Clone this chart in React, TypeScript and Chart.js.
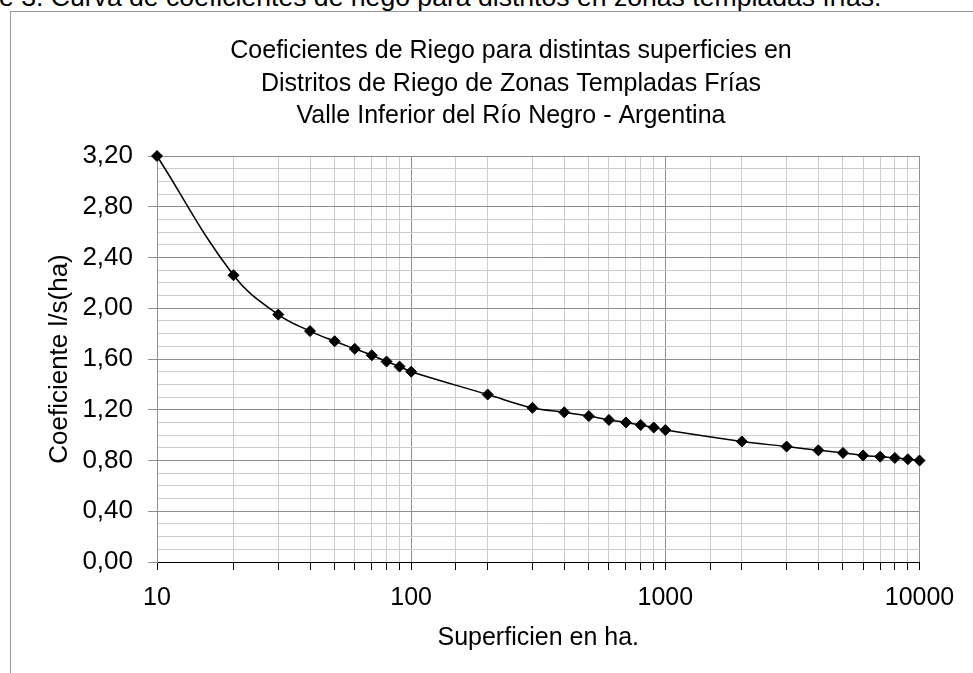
import React, { useEffect, useRef } from "react";
import { Chart, registerables } from "chart.js";

Chart.register(...registerables);

// ---- data ----
const superficies: number[] = [
  10, 20, 30, 40, 50, 60, 70, 80, 90,
  100, 200, 300, 400, 500, 600, 700, 800, 900,
  1000, 2000, 3000, 4000, 5000, 6000, 7000, 8000, 9000, 10000,
];
const coeficientes: number[] = [
  3.2, 2.26, 1.95, 1.82, 1.74, 1.68, 1.63, 1.58, 1.54,
  1.5, 1.32, 1.215, 1.18, 1.15, 1.12, 1.1, 1.08, 1.06,
  1.04, 0.95, 0.91, 0.88, 0.86, 0.84, 0.83, 0.82, 0.81, 0.8,
];
const titleLines: string[] = [
  "Coeficientes de Riego para distintas superficies en",
  "Distritos de Riego de Zonas Templadas Frías",
  "Valle Inferior del Río Negro - Argentina",
];
const xTitle = "Superficien en ha.";
const yTitle = "Coeficiente l/s(ha)";
const yMin = 0;
const yMax = 3.2;
const yMinorStep = 0.1;
const yMajorEvery = 4; // a labelled tick every 0.40
const xMin = 10;
const xMax = 10000;

const FONT = "'Liberation Sans', Arial, Helvetica, sans-serif";
const CW = 1000;
const CH = 661;

const isMajorY = (v: number) => Math.abs(Math.round(v / yMinorStep) % yMajorEvery) === 0;
const isDecade = (v: number) => {
  const l = Math.log10(v);
  return Math.abs(l - Math.round(l)) < 1e-9;
};

export default function App() {
  const ref = useRef<HTMLCanvasElement | null>(null);

  useEffect(() => {
    if (!ref.current) return;
    const chart = new Chart(ref.current, {
      type: "line",
      data: {
        datasets: [
          {
            data: superficies.map((x, i) => ({ x, y: coeficientes[i] })),
            borderColor: "#000",
            backgroundColor: "#000",
            borderWidth: 1.5,
            tension: 0.4,
            clip: false,
            pointStyle: "rectRot",
            pointRadius: 5.5,
            pointBackgroundColor: "#000",
            pointBorderColor: "#000",
            pointBorderWidth: 1,
            fill: false,
          },
        ],
      },
      options: {
        responsive: false,
        animation: false,
        events: [],
        layout: { padding: 0 },
        plugins: {
          legend: { display: false },
          tooltip: { enabled: false },
          title: {
            display: true,
            text: titleLines,
            color: "#000",
            font: { family: FONT, size: 25, weight: "normal", lineHeight: 1.3 },
            padding: { top: 23, bottom: 23.5 },
          },
        },
        scales: {
          x: {
            type: "logarithmic",
            min: xMin,
            max: xMax,
            afterFit: (s: any) => {
              s.height = CH - 550;
            },
            border: { display: true, color: "#000", width: 1 },
            grid: {
              color: (ctx: any) => (ctx.tick && isDecade(ctx.tick.value) ? "#8f8f8f" : "#cccccc"),
              tickColor: "#000",
              tickLength: 8,
              lineWidth: 1,
            },
            ticks: {
              autoSkip: false,
              maxRotation: 0,
              minRotation: 0,
              padding: 13,
              color: "#000",
              font: { family: FONT, size: 25 },
              callback: (v: any) => (isDecade(Number(v)) ? String(Number(v)) : ""),
            },
            title: {
              display: true,
              text: xTitle,
              color: "#000",
              font: { family: FONT, size: 25, lineHeight: 1.2 },
              padding: { top: 0, bottom: 20 },
            },
          },
          y: {
            type: "linear",
            min: yMin,
            max: yMax,
            afterFit: (s: any) => {
              s.width = 146;
            },
            border: { display: true, color: "#8f8f8f", width: 1 },
            grid: {
              color: (ctx: any) => (ctx.tick && isMajorY(ctx.tick.value) ? "#8f8f8f" : "#cccccc"),
              tickColor: (ctx: any) => (ctx.tick && isMajorY(ctx.tick.value) ? "#8f8f8f" : "rgba(0,0,0,0)"),
              tickLength: 9,
              lineWidth: 1,
            },
            ticks: {
              stepSize: yMinorStep,
              autoSkip: false,
              padding: 15,
              color: "#000",
              font: { family: FONT, size: 26 },
              callback: (v: any) => (isMajorY(Number(v)) ? Number(v).toFixed(2).replace(".", ",") : ""),
            },
            title: {
              display: true,
              text: yTitle,
              color: "#000",
              font: { family: FONT, size: 26, lineHeight: 1.2 },
              padding: { top: 33, bottom: 0 },
            },
          },
          yRight: {
            type: "linear",
            position: "right",
            display: true,
            min: yMin,
            max: yMax,
            afterFit: (s: any) => {
              s.width = 91.5;
            },
            border: { display: false },
            grid: { display: false, drawOnChartArea: false, drawTicks: false },
            ticks: { display: false },
          },
        },
      } as any,
    });
    return () => chart.destroy();
  }, []);

  return (
    <div
      style={{
        position: "fixed",
        left: 0,
        top: 0,
        width: 973,
        height: 673,
        overflow: "hidden",
        background: "#fff",
        fontFamily: FONT,
      }}
    >
      <div
        style={{
          position: "absolute",
          left: -1,
          top: -16,
          fontSize: 26.6,
          lineHeight: "26px",
          whiteSpace: "nowrap",
          color: "#000",
        }}
      >
        <span style={{ position: "absolute", right: "100%" }}>Figur</span>
        <span>e 3. Curva de coeficientes de riego para distritos en zonas templadas frías.</span>
      </div>
      <div
        style={{
          position: "absolute",
          left: 10,
          top: 11,
          width: 1100,
          height: 800,
          border: "1px solid #9a9a9a",
          boxSizing: "border-box",
        }}
      />
      <canvas
        ref={ref}
        width={CW}
        height={CH}
        style={{ position: "absolute", left: 11, top: 12, width: CW, height: CH }}
      />
    </div>
  );
}
